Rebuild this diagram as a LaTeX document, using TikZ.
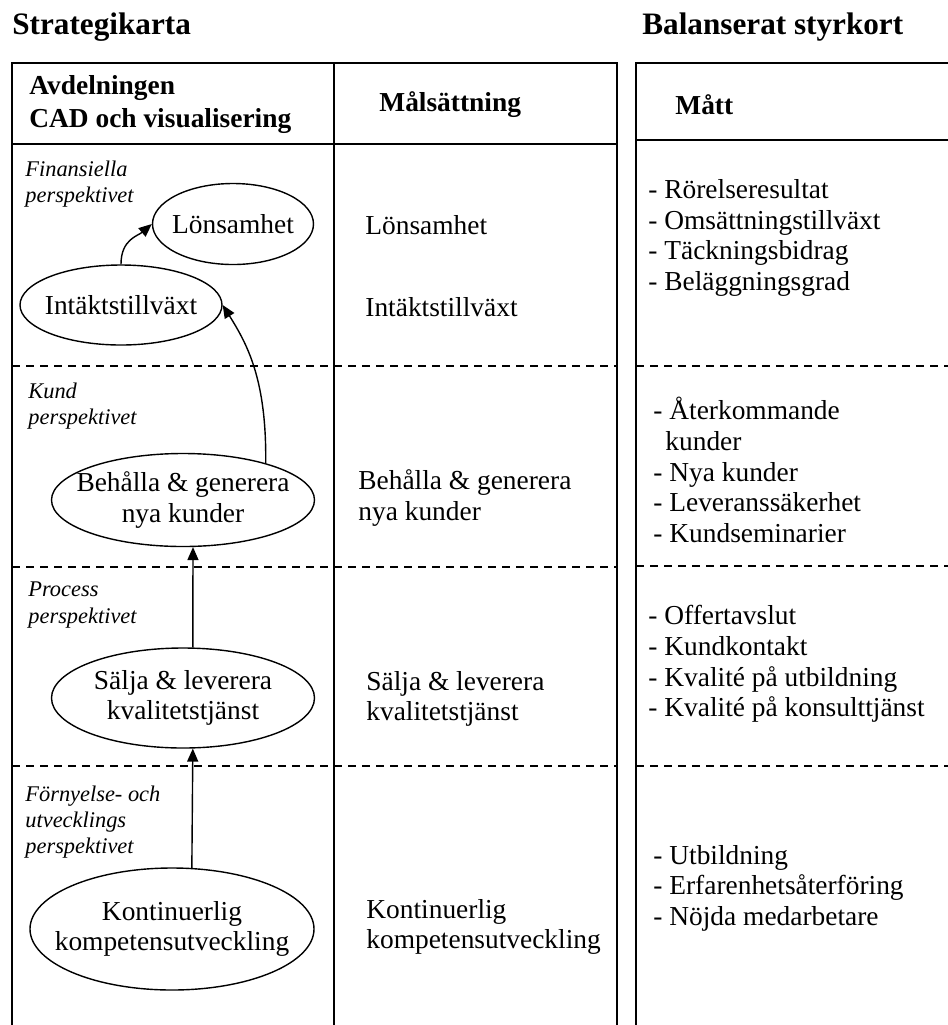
\documentclass[tikz,border=0pt]{standalone}
\usepackage{fontspec}
\setmainfont{Liberation Serif}
\usetikzlibrary{shapes.geometric,arrows.meta}

\tikzset{
  goal/.style={draw, ellipse, line width=0.7pt, inner sep=0pt},
  goaltext/.style={align=center, inner sep=0pt, font=\fontsize{13.7}{15.3}\selectfont},
  txt/.style={anchor=west, align=left, inner sep=0pt, font=\fontsize{13.7}{15.3}\selectfont},
  persp/.style={anchor=west, align=left, inner sep=0pt, font=\fontsize{11.2}{13.2}\selectfont\itshape},
  head/.style={anchor=west, align=left, inner sep=0pt, font=\fontsize{13.7}{16.5}\selectfont\bfseries},
  title/.style={anchor=west, inner sep=0pt, font=\fontsize{15.6}{18}\selectfont\bfseries},
  frame/.style={line width=0.9pt},
  divider/.style={line width=0.7pt, dash pattern=on 4pt off 3pt},
  link/.style={line width=0.7pt, -{Triangle[length=6.5pt,width=5.5pt]}},
}

\begin{document}
\begin{tikzpicture}[x=0.5pt,y=-0.5pt]
        \useasboundingbox (0,0) rectangle (948,1025);

        \node[title] (strat) at (12,27) {Strategikarta};
        \node[title] (bsc) at (642,27) {Balanserat styrkort};

        % strategikarta
        \draw[frame] (12,1025) -- (12,63) -- (617,63) -- (617,1025);
        \draw[frame] (334,63) -- (334,1025);
        \draw[frame] (12,144) -- (617,144);
        \foreach \y in {366,567,766}
            \draw[divider] (12,\y) -- (617,\y);

        % styrkort
        \draw[frame] (636,1025) -- (636,63) -- (948,63);
        \draw[frame] (636,140) -- (948,140);
        \foreach \y in {366,566,766}
            \draw[divider] (636,\y) -- (948,\y);

        \node[head] (avd) at (29,105) {Avdelningen\\CAD och visualisering};
        \node[head] (mal) at (379,105) {Målsättning};
        \node[head] (matt) at (675,105) {Mått};

        \node[persp] (pfin) at (25,184) {Finansiella\\perspektivet};
        \node[persp] (pkund) at (28,406) {Kund\\perspektivet};
        \node[persp] (pproc) at (28,605) {Process\\perspektivet};
        \node[persp] (plar) at (25,822) {Förnyelse- och\\utvecklings\\perspektivet};

        \node[goal, minimum width=80.5pt, minimum height=40.5pt] (lonsam) at (233,224) {};
        \node[goaltext] (lonsamt) at (lonsam) {Lönsamhet};
        \node[goal, minimum width=101pt, minimum height=40pt] (intakt) at (121,305) {};
        \node[goaltext] (intaktt) at (intakt) {Intäktstillväxt};
        \node[goal, minimum width=131.5pt, minimum height=46.5pt] (behalla) at (183,500) {};
        \node[goaltext] (behallat) at (behalla) {Behålla \& generera\\nya kunder};
        \node[goal, minimum width=131.5pt, minimum height=50pt] (salja) at (183,698) {};
        \node[goaltext] (saljat) at (salja) {Sälja \& leverera\\kvalitetstjänst};
        \node[goal, minimum width=142pt, minimum height=61pt] (kont) at (172,929) {};
        \node[goaltext] (kontt) at (kont) {Kontinuerlig\\kompetensutveckling};

        \node[txt] (m1) at (365,225) {Lönsamhet};
        \node[txt] (m2) at (365,307) {Intäktstillväxt};
        \node[txt] (m3) at (358,498) {Behålla \& generera\\nya kunder};
        \node[txt] (m4) at (366,699) {Sälja \& leverera\\kvalitetstjänst};
        \node[txt] (m5) at (366,927) {Kontinuerlig\\kompetensutveckling};

        \node[txt] (k1) at (648,238) {- Rörelseresultat\\- Omsättningstillväxt\\- Täckningsbidrag\\- Beläggningsgrad};
        \node[txt] (k2) at (653,470) {- Återkommande\\\hspace*{6pt}kunder\\- Nya kunder\\- Leveranssäkerhet\\- Kundseminarier};
        \node[txt] (k3) at (648,664) {- Offertavslut\\- Kundkontakt\\- Kvalité på utbildning\\- Kvalité på konsulttjänst};
        \node[txt] (k4) at (653,888) {- Utbildning\\- Erfarenhetsåterföring\\- Nöjda medarbetare};

        \draw[link] (kont.72) -- (salja.-79);
        \draw[link] (salja.79) -- (behalla.-78);
        \draw[link] (behalla.24) .. controls +(1,-83) and +(25,40) .. (intakt.east);
        \draw[link] (intakt.north) .. controls +(0,-25) and +(-14,12) .. (lonsam.west);
    \end{tikzpicture}
\end{document}
